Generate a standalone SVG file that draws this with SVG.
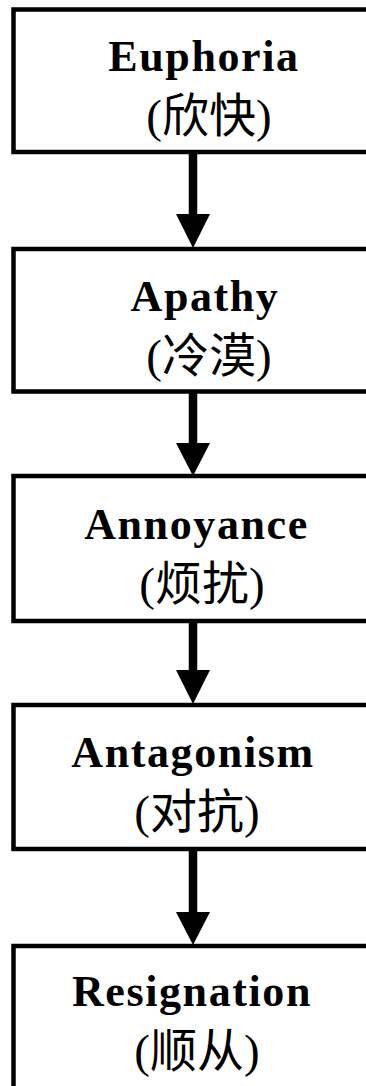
<svg xmlns="http://www.w3.org/2000/svg" width="366" height="1086" viewBox="0 0 366 1086">
<style>
.box{fill:#fff;stroke:#000;stroke-width:4.5}
.en{font-family:"Liberation Serif","Times New Roman",serif;font-weight:bold;font-size:44px;letter-spacing:1.6px;text-anchor:middle;fill:#000}
.zh{font-family:"Liberation Serif","Noto Sans CJK SC",serif;font-size:47px;text-anchor:middle;fill:#000}
.shaft{stroke:#000;stroke-width:8.5;fill:none}
.head{fill:#000}
</style>
<rect width="366" height="1086" fill="#fff"/>
<g id="connectors">
<line class="shaft" x1="193" y1="153" x2="193" y2="216"/>
<polygon class="head" points="176,214 210,214 193,248"/>
<line class="shaft" x1="193" y1="393" x2="193" y2="445"/>
<polygon class="head" points="176,443 210,443 193,476"/>
<line class="shaft" x1="193" y1="623" x2="193" y2="672"/>
<polygon class="head" points="176,670 210,670 193,704"/>
<line class="shaft" x1="193" y1="851" x2="193" y2="914"/>
<polygon class="head" points="176,912 210,912 193,945"/>
</g>
<g id="euphoria">
<rect class="box" x="13.5" y="9.5" width="380" height="142.5"/>
<text class="en" x="204" y="71">Euphoria</text>
<text class="zh" x="209" y="132">(欣快)</text>
</g>
<g id="apathy">
<rect class="box" x="13.5" y="249" width="380" height="142.5"/>
<text class="en" x="205" y="311">Apathy</text>
<text class="zh" x="209" y="372">(冷漠)</text>
</g>
<g id="annoyance">
<rect class="box" x="13.5" y="476" width="380" height="145"/>
<text class="en" x="196.5" y="539">Annoyance</text>
<text class="zh" x="202" y="600">(烦扰)</text>
</g>
<g id="antagonism">
<rect class="box" x="13.5" y="705" width="380" height="144"/>
<text class="en" x="193" y="767">Antagonism</text>
<text class="zh" x="197" y="828">(对抗)</text>
</g>
<g id="resignation">
<rect class="box" x="13.5" y="946" width="380" height="160"/>
<text class="en" x="192" y="1006">Resignation</text>
<text class="zh" x="197" y="1067">(顺从)</text>
</g>
</svg>
